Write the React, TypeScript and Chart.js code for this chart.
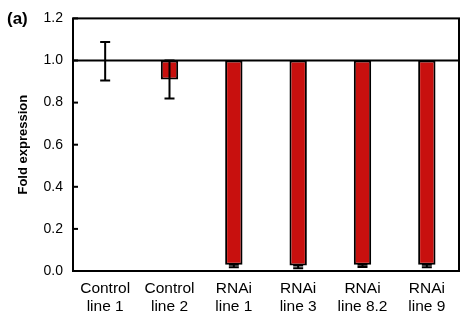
import { useEffect, useRef } from 'react';
import { Chart, registerables } from 'chart.js';
Chart.register(...registerables);

const categories = [
  ['Control', 'line 1'],
  ['Control', 'line 2'],
  ['RNAi', 'line 1'],
  ['RNAi', 'line 3'],
  ['RNAi', 'line 8.2'],
  ['RNAi', 'line 9'],
];
const foldValues = [1.0, 0.91, 0.03, 0.026, 0.03, 0.03];
const errLow = [0.905, 0.82, 0.018, 0.013, 0.019, 0.018];
const errHigh = [1.088, 1.0, 0.03, 0.026, 0.03, 0.03];
const baseline = 1.0;
const yTicks = [0, 0.2, 0.4, 0.6, 0.8, 1.0, 1.2];
const yTitle = 'Fold expression';
const panelLabel = '(a)';

const FONT = '"Liberation Sans", Arial, Helvetica, sans-serif';

const decorPlugin = {
  id: 'decor',
  afterDatasetsDraw(chart: any) {
    const { ctx, chartArea: a, scales } = chart;
    const x = scales.x;
    const y = scales.y;
    ctx.save();
    ctx.strokeStyle = '#000';
    ctx.lineWidth = 2;
    const yb = y.getPixelForValue(baseline);
    ctx.beginPath();
    ctx.moveTo(a.left, yb);
    ctx.lineTo(a.right, yb);
    ctx.stroke();
    for (let i = 0; i < categories.length; i++) {
      const cx = x.getPixelForValue(i);
      const y1 = y.getPixelForValue(errLow[i]);
      const y2 = y.getPixelForValue(errHigh[i]);
      ctx.beginPath();
      ctx.moveTo(cx, y1);
      ctx.lineTo(cx, y2);
      ctx.moveTo(cx - 5, y1);
      ctx.lineTo(cx + 5, y1);
      ctx.moveTo(cx - 5, y2);
      ctx.lineTo(cx + 5, y2);
      ctx.stroke();
    }
    ctx.lineWidth = 2;
    ctx.strokeRect(a.left, a.top, a.right - a.left, a.bottom - a.top);
    for (const t of yTicks) {
      const py = y.getPixelForValue(t);
      ctx.beginPath();
      ctx.moveTo(a.left, py);
      ctx.lineTo(a.left + 5, py);
      ctx.stroke();
    }
    ctx.restore();
  },
  afterDraw(chart: any) {
    const { ctx, chartArea: a } = chart;
    ctx.save();
    ctx.fillStyle = '#000';
    ctx.font = `bold 13px ${FONT}`;
    ctx.textAlign = 'center';
    ctx.textBaseline = 'middle';
    ctx.translate(23, (a.top + a.bottom) / 2);
    ctx.rotate(-Math.PI / 2);
    ctx.fillText(yTitle, 0, 0);
    ctx.restore();
    ctx.save();
    ctx.fillStyle = '#000';
    ctx.font = `bold 17px ${FONT}`;
    ctx.textAlign = 'left';
    ctx.textBaseline = 'alphabetic';
    ctx.fillText(panelLabel, 7, 24);
    ctx.restore();
  },
};

export default function App() {
  const ref = useRef<HTMLCanvasElement>(null);
  useEffect(() => {
    if (!ref.current) return;
    const chart = new Chart(ref.current, {
      type: 'bar',
      data: {
        labels: categories,
        datasets: [
          {
            data: foldValues.map((v) => (v === baseline ? null : [v, baseline])) as any,
            backgroundColor: '#C8100E',
            borderColor: '#000',
            borderWidth: 2,
            borderSkipped: false,
            barPercentage: 0.27,
            categoryPercentage: 1,
          },
        ],
      },
      options: {
        responsive: false,
        animation: false,
        layout: { padding: { top: 17, right: 2, left: 0, bottom: 0 } },
        plugins: { legend: { display: false }, tooltip: { enabled: false } },
        scales: {
          x: {
            grid: { display: false, drawTicks: false },
            border: { display: false },
            ticks: {
              color: '#000',
              padding: 9,
              font: { family: FONT, size: 15.5, lineHeight: 1.17 },
              maxRotation: 0,
              autoSkip: false,
            },
            afterFit: (s: any) => {
              s.height = 50;
            },
          },
          y: {
            min: 0,
            max: 1.2,
            grid: { display: false, drawTicks: false },
            border: { display: false },
            afterBuildTicks: (s: any) => {
              s.ticks = yTicks.map((v) => ({ value: v }));
            },
            ticks: {
              color: '#000',
              padding: 10,
              font: { family: FONT, size: 14 },
              callback: (v: any) => Number(v).toFixed(1),
            },
            afterFit: (s: any) => {
              s.width = 73;
            },
          },
        },
      },
      plugins: [decorPlugin],
    });
    return () => chart.destroy();
  }, []);
  return (
    <div style={{ position: 'fixed', left: 0, top: 0, width: 461, height: 321, background: '#fff' }}>
      <canvas ref={ref} width={461} height={321} />
    </div>
  );
}
